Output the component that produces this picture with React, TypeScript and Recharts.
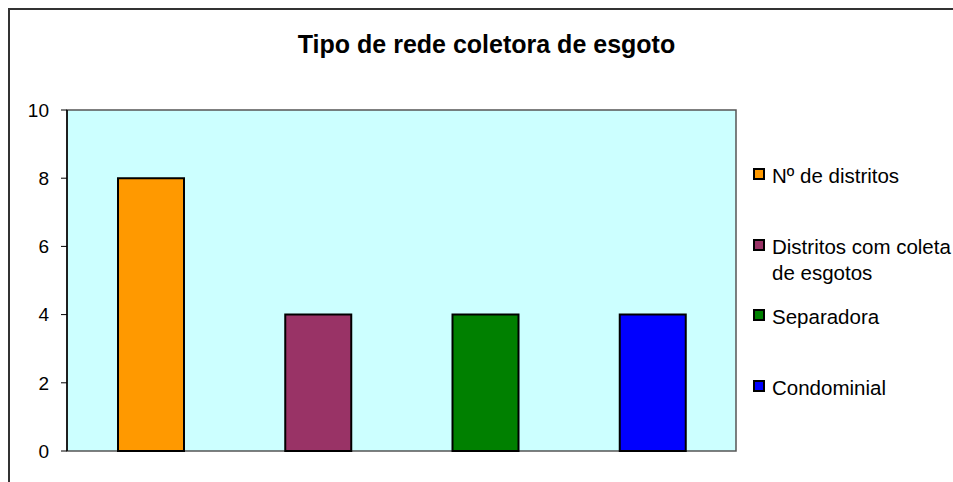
import React from 'react';
import { BarChart, Bar, Cell, XAxis, YAxis, CartesianGrid, ReferenceArea } from 'recharts';

const categories = ['Nº de distritos', 'Distritos com coleta de esgotos', 'Separadora', 'Condominial'];
const values = [8, 4, 4, 4];
const colors = ['#FF9900', '#993366', '#008000', '#0000FF'];
const yTicks = [0, 2, 4, 6, 8, 10];
const title = 'Tipo de rede coletora de esgoto';

const data = categories.map((name, i) => ({ name, value: values[i] }));

const FONT = '"Liberation Sans", Arial, sans-serif';

export default function App() {
  // fixed so the frame can run off the right/bottom edge without scrollbars
  return (
    <div
      style={{
        position: 'fixed',
        left: 8,
        top: 8,
        width: 943,
        height: 472,
        borderLeft: '2px solid #333',
        borderTop: '2px solid #333',
        fontFamily: FONT,
        color: '#000',
        overflow: 'hidden',
        background: '#fff',
      }}
    >
      <div
        style={{
          position: 'absolute',
          left: 0,
          top: 22,
          width: 953,
          textAlign: 'center',
          fontSize: 25,
          lineHeight: '25px',
          fontWeight: 'bold',
        }}
      >
        {title}
      </div>

      <BarChart
        width={935}
        height={472}
        data={data}
        margin={{ top: 100, right: 209, bottom: 31, left: 0 }}
      >
        <CartesianGrid fill="#CCFFFF" horizontal={false} vertical={false} />
        <ReferenceArea y1={0} y2={10} fill="none" stroke="#555" strokeWidth={1.5} />
        <XAxis dataKey="name" height={0} tick={false} tickLine={false} axisLine={{ stroke: '#000', strokeWidth: 1.5 }} />
        <YAxis
          domain={[0, 10]}
          ticks={yTicks}
          width={57}
          tickSize={6}
          tickMargin={12}
          axisLine={{ stroke: '#000', strokeWidth: 1.5 }}
          tickLine={{ stroke: '#000' }}
          tick={{ fill: '#000', fontSize: 19, fontFamily: FONT }}
        />
        <Bar dataKey="value" barSize={66} stroke="#000" strokeWidth={2} isAnimationActive={false}>
          {data.map((entry, i) => (
            <Cell key={`cell-${i}`} fill={colors[i]} />
          ))}
        </Bar>
      </BarChart>

      <div style={{ position: 'absolute', left: 743, top: 153 }}>
        {categories.map((name, i) => (
          <div key={name} style={{ position: 'relative', height: 70.7 }}>
            <div
              style={{
                position: 'absolute',
                left: 0,
                top: 5,
                width: 12,
                height: 12,
                boxSizing: 'border-box',
                border: '2px solid #000',
                background: colors[i],
              }}
            />
            <div
              style={{
                position: 'absolute',
                left: 19,
                top: 0,
                width: 184,
                fontSize: 20.5,
                lineHeight: '26px',
              }}
            >
              {name}
            </div>
          </div>
        ))}
      </div>
    </div>
  );
}
